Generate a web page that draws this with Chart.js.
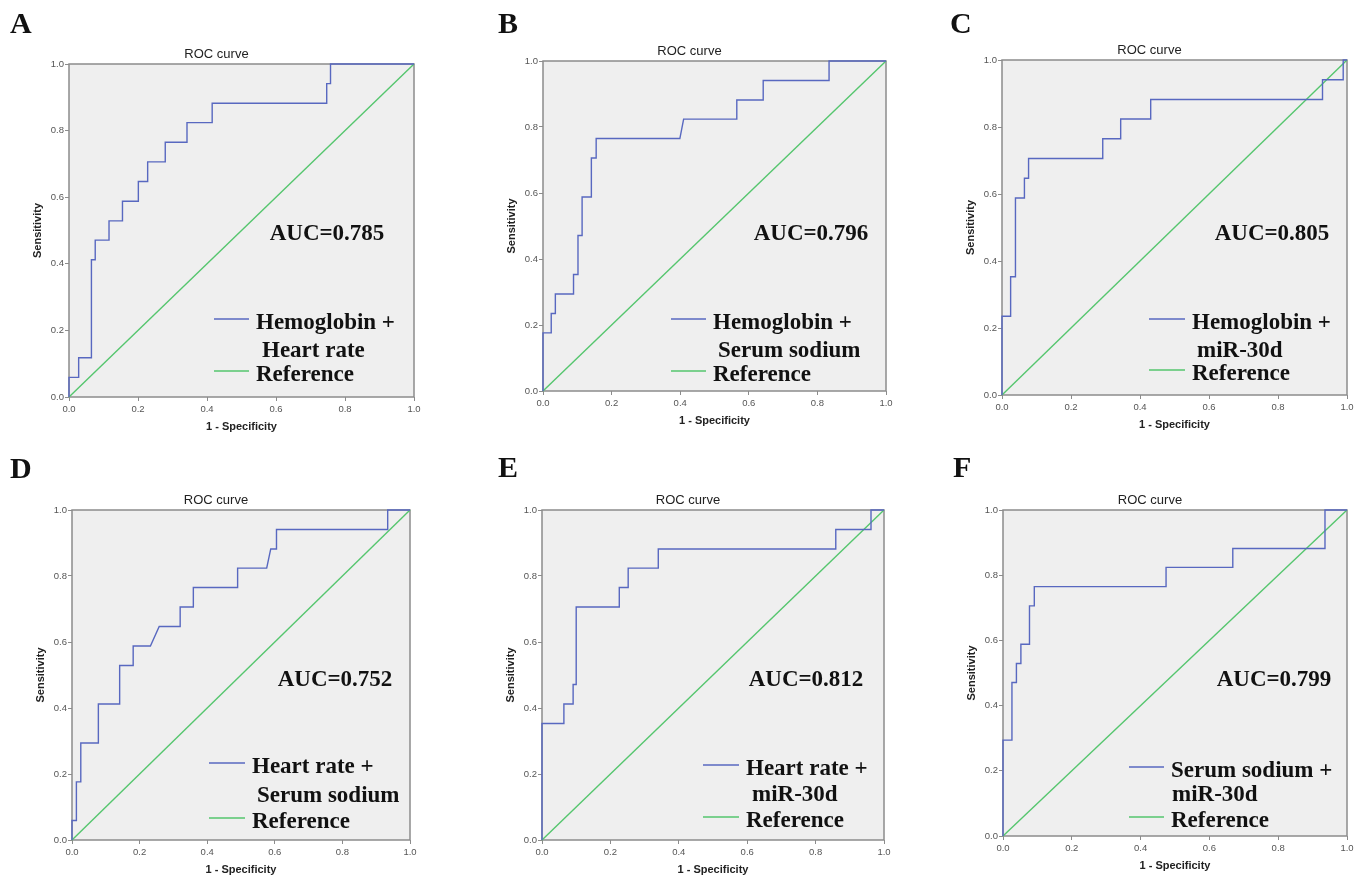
<!DOCTYPE html>
<html>
<head>
<meta charset="utf-8">
<script src="https://cdn.jsdelivr.net/npm/chart.js@4.4.1/dist/chart.umd.min.js"></script>
<style>
  html, body { margin: 0; padding: 0; background: #fff; }
  body { width: 1366px; height: 880px; position: relative; overflow: hidden; }
  canvas { position: absolute; }
</style>
</head>
<body>
<canvas id="roc0"></canvas>
<canvas id="roc1"></canvas>
<canvas id="roc2"></canvas>
<canvas id="roc3"></canvas>
<canvas id="roc4"></canvas>
<canvas id="roc5"></canvas>
<script>
// panel labels and AUC values
const panelLetters = ["A", "B", "C", "D", "E", "F"];
const aucValues = ["0.785", "0.796", "0.805", "0.752", "0.812", "0.799"];
const markerNames = [
  ["Hemoglobin +", "Heart rate"],
  ["Hemoglobin +", "Serum sodium"],
  ["Hemoglobin +", "miR-30d"],
  ["Heart rate +", "Serum sodium"],
  ["Heart rate +", "miR-30d"],
  ["Serum sodium +", "miR-30d"]
];
const tickValues = [0, 0.2, 0.4, 0.6, 0.8, 1.0];

// ROC vertices (1 - specificity, sensitivity)
const fprA = [0, 0, 0.028, 0.028, 0.065, 0.065, 0.076, 0.076, 0.116, 0.116, 0.155, 0.155, 0.201, 0.201, 0.228, 0.228, 0.279, 0.279, 0.342, 0.342, 0.415, 0.415, 0.747, 0.747, 0.758, 0.758, 1];
const tprA = [0, 0.059, 0.059, 0.118, 0.118, 0.412, 0.412, 0.471, 0.471, 0.529, 0.529, 0.588, 0.588, 0.647, 0.647, 0.706, 0.706, 0.765, 0.765, 0.824, 0.824, 0.882, 0.882, 0.941, 0.941, 1, 1];

const fprB = [0, 0, 0.024, 0.024, 0.036, 0.036, 0.089, 0.089, 0.102, 0.102, 0.114, 0.114, 0.141, 0.141, 0.155, 0.155, 0.399, 0.410, 0.565, 0.565, 0.642, 0.642, 0.834, 0.834, 1];
const tprB = [0, 0.176, 0.176, 0.235, 0.235, 0.294, 0.294, 0.353, 0.353, 0.471, 0.471, 0.588, 0.588, 0.706, 0.706, 0.765, 0.765, 0.824, 0.824, 0.882, 0.882, 0.941, 0.941, 1, 1];

const fprC = [0, 0, 0.025, 0.025, 0.039, 0.039, 0.065, 0.065, 0.077, 0.077, 0.292, 0.292, 0.344, 0.344, 0.431, 0.431, 0.929, 0.929, 0.989, 0.989, 1];
const tprC = [0, 0.235, 0.235, 0.353, 0.353, 0.588, 0.588, 0.647, 0.647, 0.706, 0.706, 0.765, 0.765, 0.824, 0.824, 0.882, 0.882, 0.941, 0.941, 1, 1];

const fprD = [0, 0, 0.013, 0.013, 0.026, 0.026, 0.078, 0.078, 0.141, 0.141, 0.181, 0.181, 0.232, 0.258, 0.320, 0.320, 0.359, 0.359, 0.490, 0.490, 0.576, 0.588, 0.605, 0.605, 0.934, 0.934, 1];
const tprD = [0, 0.059, 0.059, 0.176, 0.176, 0.294, 0.294, 0.412, 0.412, 0.529, 0.529, 0.588, 0.588, 0.647, 0.647, 0.706, 0.706, 0.765, 0.765, 0.824, 0.824, 0.882, 0.882, 0.941, 0.941, 1, 1];

const fprE = [0, 0, 0.064, 0.064, 0.091, 0.091, 0.100, 0.100, 0.226, 0.226, 0.252, 0.252, 0.340, 0.340, 0.859, 0.859, 0.962, 0.962, 1];
const tprE = [0, 0.353, 0.353, 0.412, 0.412, 0.471, 0.471, 0.706, 0.706, 0.765, 0.765, 0.824, 0.824, 0.882, 0.882, 0.941, 0.941, 1, 1];

const fprF = [0, 0, 0.026, 0.026, 0.039, 0.039, 0.052, 0.052, 0.077, 0.077, 0.091, 0.091, 0.474, 0.474, 0.668, 0.668, 0.936, 0.936, 1];
const tprF = [0, 0.294, 0.294, 0.471, 0.471, 0.529, 0.529, 0.588, 0.588, 0.706, 0.706, 0.765, 0.765, 0.824, 0.824, 0.882, 0.882, 1, 1];

const refX = [0, 1];
const refY = [0, 1];

const curves = [[fprA, tprA], [fprB, tprB], [fprC, tprC], [fprD, tprD], [fprE, tprE], [fprF, tprF]];

// page layout: plot box [left, top, right, bottom], legend and label spots
const plotBoxes = [
  [69, 64, 414, 397], [543, 61, 886, 391], [1002, 60, 1347, 395],
  [72, 510, 410, 840], [542, 510, 884, 840], [1003, 510, 1347, 836]
];
const legendSpots = [ // lineX0, lineX1, blueY, textX, text2X, text2Y, refY
  [214, 249, 319, 256, 262, 350, 371],
  [671, 706, 319, 713, 718, 350, 371],
  [1149, 1185, 319, 1192, 1197, 350, 370],
  [209, 245, 763, 252, 257, 795, 818],
  [703, 739, 765, 746, 752, 794, 817],
  [1129, 1164, 767, 1171, 1172, 794, 817]
];
const aucSpots = [[327, 232], [811, 232], [1272, 232], [335, 678], [806, 678], [1274, 678]];
const letterSpots = [[10, 33], [498, 33], [950, 33], [10, 478], [498, 477], [953, 477]];

const BLUE = "#5868c0";
const GREEN = "#55c66e";
const AXIS = "#8c8c8c";
const SANS = "'Liberation Sans', Arial, sans-serif";
const SERIF = "'Liberation Serif', 'Times New Roman', serif";

const PAD_L = 68, PAD_T = 62, PAD_R = 22, PAD_B = 42;

function makePanel(i) {
  const [L, T, R, B] = plotBoxes[i];
  const ox = L - PAD_L, oy = T - PAD_T;
  const canvas = document.getElementById("roc" + i);
  canvas.width = R - L + PAD_L + PAD_R;
  canvas.height = B - T + PAD_T + PAD_B;
  canvas.style.left = ox + "px";
  canvas.style.top = oy + "px";

  const [fpr, tpr] = curves[i];

  const decor = {
    id: "decor" + i,
    beforeDraw(chart) {
      const { ctx, chartArea: a } = chart;
      ctx.save();
      ctx.fillStyle = "#efefef";
      ctx.fillRect(a.left, a.top, a.right - a.left, a.bottom - a.top);
      ctx.restore();
    },
    beforeDatasetsDraw(chart) {
      const { ctx, chartArea: a } = chart;
      ctx.save();
      ctx.strokeStyle = AXIS;
      ctx.lineWidth = 1.5;
      ctx.strokeRect(a.left, a.top, a.right - a.left, a.bottom - a.top);
      ctx.restore();
    },
    afterDraw(chart) {
      const { ctx, chartArea: a } = chart;
      const cx = (a.left + a.right) / 2;
      const cy = (a.top + a.bottom) / 2;
      ctx.save();
      ctx.fillStyle = "#111";

      // panel letter
      ctx.font = "bold 30px " + SERIF;
      ctx.textAlign = "left";
      ctx.textBaseline = "alphabetic";
      ctx.fillText(panelLetters[i], letterSpots[i][0] - ox, letterSpots[i][1] - oy);

      // chart title
      ctx.fillStyle = "#222";
      ctx.font = "13px " + SANS;
      ctx.textAlign = "center";
      ctx.textBaseline = "middle";
      ctx.fillText("ROC curve", cx - 25, a.top - 10);

      // axis titles
      ctx.font = "bold 11px " + SANS;
      ctx.fillText("1 - Specificity", cx, a.bottom + 30);
      ctx.save();
      ctx.translate(a.left - 31, cy);
      ctx.rotate(-Math.PI / 2);
      ctx.fillText("Sensitivity", 0, 0);
      ctx.restore();

      // AUC label
      ctx.fillStyle = "#111";
      ctx.font = "bold 23px " + SERIF;
      ctx.textBaseline = "alphabetic";
      ctx.fillText("AUC=" + aucValues[i], aucSpots[i][0] - ox, aucSpots[i][1] - oy + 8);

      // legend
      const [x0, x1, by, tx, tx2, ty2, ry] = legendSpots[i];
      ctx.lineWidth = 1.6;
      ctx.strokeStyle = BLUE;
      ctx.beginPath();
      ctx.moveTo(x0 - ox, by - oy);
      ctx.lineTo(x1 - ox, by - oy);
      ctx.stroke();
      ctx.strokeStyle = GREEN;
      ctx.beginPath();
      ctx.moveTo(x0 - ox, ry - oy);
      ctx.lineTo(x1 - ox, ry - oy);
      ctx.stroke();
      ctx.font = "bold 23px " + SERIF;
      ctx.textAlign = "left";
      ctx.fillText(markerNames[i][0], tx - ox, by - oy + 10);
      ctx.fillText(markerNames[i][1], tx2 - ox, ty2 - oy + 7);
      ctx.fillText("Reference", tx - ox, ry - oy + 10);
      ctx.restore();
    }
  };

  const axisCommon = {
    type: "linear",
    min: 0,
    max: 1,
    border: { display: false },
    grid: { display: true, drawOnChartArea: false, drawTicks: true, tickLength: 4, color: AXIS, lineWidth: 1 },
    afterBuildTicks: scale => { scale.ticks = tickValues.map(v => ({ value: v })); }
  };

  new Chart(canvas, {
    type: "scatter",
    data: {
      datasets: [
        {
          label: markerNames[i].join(" "),
          data: fpr.map((x, k) => ({ x: x, y: tpr[k] })),
          showLine: true,
          borderColor: BLUE,
          borderWidth: 1.4,
          pointRadius: 0,
          tension: 0,
          clip: 4
        },
        {
          label: "Reference",
          data: refX.map((x, k) => ({ x: x, y: refY[k] })),
          showLine: true,
          borderColor: GREEN,
          borderWidth: 1.4,
          pointRadius: 0,
          clip: 4
        }
      ]
    },
    options: {
      responsive: false,
      animation: false,
      events: [],
      layout: { padding: { left: 0, top: PAD_T, right: PAD_R, bottom: 0 } },
      plugins: { legend: { display: false }, tooltip: { enabled: false }, title: { display: false } },
      scales: {
        x: Object.assign({}, axisCommon, {
          position: "bottom",
          ticks: { font: { family: SANS, size: 9.5 }, color: "#555", padding: 3, maxRotation: 0, callback: v => v.toFixed(1) },
          afterFit: scale => { scale.height = PAD_B; }
        }),
        y: Object.assign({}, axisCommon, {
          position: "left",
          ticks: { font: { family: SANS, size: 9.5 }, color: "#555", padding: 1, callback: v => v.toFixed(1) },
          afterFit: scale => { scale.width = PAD_L; }
        })
      }
    },
    plugins: [decor]
  });
}

for (let i = 0; i < 6; i++) makePanel(i);
</script>
</body>
</html>
